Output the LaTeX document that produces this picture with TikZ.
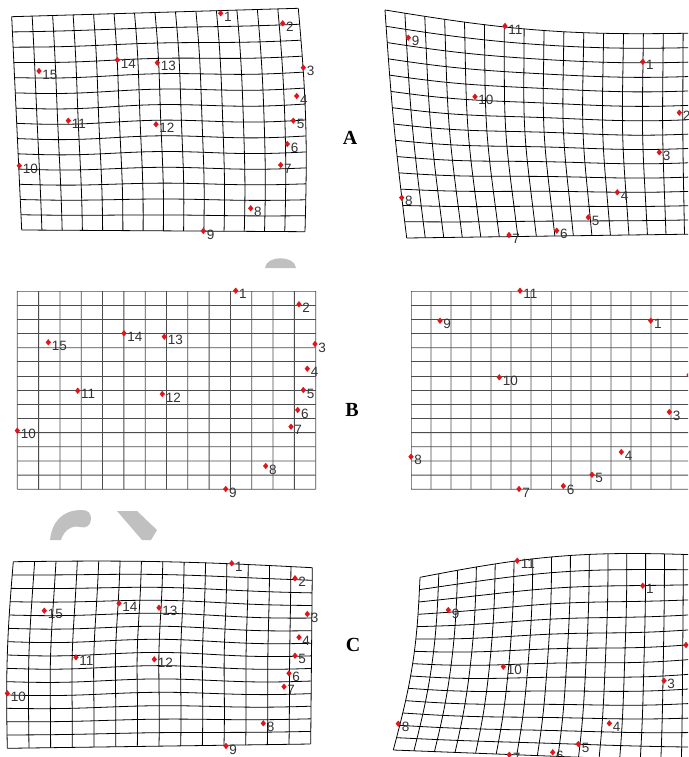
\documentclass[tikz,border=0pt]{standalone}
\usepackage{fontspec}
\setmainfont{Liberation Sans}
\newfontfamily\panelfont{Liberation Serif}
\usetikzlibrary{shapes.geometric}

\definecolor{lmred}{RGB}{225,20,25}
\definecolor{wmgray}{RGB}{192,192,192}

% corners, size and bends of one deformation grid
\pgfkeys{/wg/.cd,
  tlx/.store in=\wgtlx, tly/.store in=\wgtly,
  trx/.store in=\wgtrx, try/.store in=\wgtry,
  blx/.store in=\wgblx, bly/.store in=\wgbly,
  brx/.store in=\wgbrx, bry/.store in=\wgbry,
  cols/.store in=\wgcols, rows/.store in=\wgrows,
  ts/.store in=\wgts, bs/.store in=\wgbs,
  lb/.store in=\wglb, rb/.store in=\wgrb,
  cx/.store in=\wgcx, cy/.store in=\wgcy,
  wave/.store in=\wgwave,
  ts=0, bs=0, lb=0, rb=0, cx=0, cy=0, wave=0, cols=14, rows=14}

\newcommand{\warpgrid}[2][]{{%
  \pgfkeys{/wg/.cd,#2}%
  \foreach \j in {0,...,\wgrows}{%
    \pgfmathsetmacro\vv{\j/\wgrows}%
    \draw[#1] plot[smooth, variable=\t, domain=0:1, samples=29] ({gx(\t,\vv)},{gy(\t,\vv)});
  }%
  \foreach \i in {0,...,\wgcols}{%
    \pgfmathsetmacro\uu{\i/\wgcols}%
    \draw[#1] plot[smooth, variable=\t, domain=0:1, samples=29] ({gx(\uu,\t)},{gy(\uu,\t)});
  }%
}}

\begin{document}
\begin{tikzpicture}[x=1pt, y=-1pt,
    declare function={
      gx(\u,\v)=(1-\v)*((1-\u)*\wgtlx+\u*\wgtrx)+\v*((1-\u)*\wgblx+\u*\wgbrx)
        +\wglb*sin(180*\v)*(1-\u)+\wgrb*sin(180*\v)*\u+\wgcx*sin(180*\u)*sin(180*\v)
        +0.3*\wgwave*sin(540*\v)*sin(180*\u);
      gy(\u,\v)=(1-\v)*((1-\u)*\wgtly+\u*\wgtry)+\v*((1-\u)*\wgbly+\u*\wgbry)
        +\wgts*sin(180*\u)*(1-\v)+\wgbs*sin(180*\u)*\v+\wgcy*sin(180*\u)*sin(180*\v)
        +\wgwave*sin(540*\u)*sin(180*\v);
    },
    gridline/.style={line width=0.8pt, black},
    gridplain/.style={line width=0.8pt, black!70},
    lmk/.style={diamond, fill=lmred, inner sep=0pt, minimum width=5.5pt, minimum height=6.5pt},
    lmlab/.style={font=\fontsize{13.5}{13.5}\selectfont, text=black!80, inner sep=0pt, label distance=0.3pt, yshift=-3.5pt},
    panel/.style={font=\fontsize{20}{20}\panelfont\bfseries, inner sep=0pt}]
    \path[use as bounding box, fill=white] (0,0) rectangle (688,757);
    \clip (0,0) rectangle (688,757);
    % faint marks of the background
    \fill[wmgray] (265,268) .. controls (266,255) and (295,255) .. (296,268) -- cycle;
    \fill[wmgray] (50,540) .. controls (52,522) and (62,510) .. (82,510) .. controls (88,510) and (91,513) .. (91,519)
        .. controls (91,525) and (86,529) .. (80,527) .. controls (72,525) and (64,530) .. (61,540) -- cycle;
    \fill[wmgray] (117,511) -- (137,511) -- (157,530) -- (151,540) -- (142,540) -- cycle;
    % row A
    \warpgrid[gridline]{tlx=11.7, tly=16.7, trx=298.3, try=8.3, blx=21.7, bly=230, brx=305, bry=231.7, rb=4, wave=1.5}
    \warpgrid[gridline]{tlx=385, tly=10, trx=703, try=33, blx=406.7, bly=238, brx=703, bry=234, cols=16, ts=9, cx=-4, lb=-2, wave=1}
    % row B
    \warpgrid[gridplain]{tlx=17.3, tly=291, trx=315.7, try=291, blx=17.3, bly=489.3, brx=315.7, bry=489.3}
    \warpgrid[gridplain]{tlx=411, tly=291, trx=691, try=291, blx=411, bly=489.3, brx=691, bry=489.3}
    % row C
    \warpgrid[gridline]{tlx=13.3, tly=561.7, trx=312.3, try=567.7, blx=7.3, bly=748.3, brx=310.7, bry=744, ts=-3, lb=-3, wave=1.5}
    \warpgrid[gridline]{tlx=420, tly=577.3, trx=702, try=555, blx=393.3, bly=750, brx=702, bry=762, cols=15, ts=-10, cy=8, lb=6, wave=1}
    % landmarks
    \foreach \n/\x/\y in {1/220.7/13.3, 2/282.7/23.3, 3/303.3/67.7, 4/296.7/96, 5/293.3/120.7, 6/287.3/144, 7/280.7/165, 8/250.7/208.3,
        9/203.3/231, 10/19.3/165.7, 11/68.3/120.7, 12/156/124.3, 13/157.3/62.7, 14/117.3/60, 15/39/71}
      \node[lmk, label={[lmlab]east:\n}] (al\n) at (\x,\y) {};
    \foreach \n/\x/\y in {1/642.7/61.7, 2/679.3/112.7, 3/659.3/152.3, 4/617.3/192.3, 5/588.3/217.3, 6/556.7/230.7,
        7/509/235, 8/401.7/197.7, 9/408.3/37.7, 10/475/96.7, 11/505/26}
      \node[lmk, label={[lmlab]east:\n}] (ar\n) at (\x,\y) {};
    \foreach \n/\x/\y in {1/235.7/290.7, 2/299/304.3, 3/315/344, 4/307.3/368.7, 5/303.3/390, 6/297.7/410, 7/291/426.7, 8/265.7/466,
        9/225.7/489, 10/17.3/430.7, 11/77.7/390.7, 12/162.3/394, 13/164.3/336.7, 14/124/333.3, 15/48.3/342.3}
      \node[lmk, label={[lmlab]east:\n}] (bl\n) at (\x,\y) {};
    \foreach \n/\x/\y in {1/650.7/320.7, 2/689/375, 3/669.3/412, 4/621.3/452, 5/592/474.7, 6/563.3/486,
        7/519/489, 8/411/456.7, 9/440/320.7, 10/499.3/377.3, 11/520/290.7}
      \node[lmk, label={[lmlab]east:\n}] (br\n) at (\x,\y) {};
    \foreach \n/\x/\y in {1/231.7/563.3, 2/295/578.3, 3/307.3/614, 4/299/637.3, 5/295/655.7, 6/289/673.3, 7/284/686.7, 8/263.3/723.3,
        9/226/746, 10/7.3/693.3, 11/76/657.3, 12/154.3/659.3, 13/159/607.7, 14/119/603.3, 15/44.3/610.7}
      \node[lmk, label={[lmlab]east:\n}] (cl\n) at (\x,\y) {};
    \foreach \n/\x/\y in {1/642.7/585.7, 2/686/645, 3/664/680.7, 4/609.3/723.3, 5/578.3/744, 6/552.7/752.3,
        7/509.3/754.7, 8/398.3/723.7, 9/448.3/610, 10/503.3/666.7, 11/517.3/560.7}
      \node[lmk, label={[lmlab]east:\n}] (cr\n) at (\x,\y) {};
    % panel letters
    \node[panel] (pA) at (350,138) {A};
    \node[panel] (pB) at (352,410) {B};
    \node[panel] (pC) at (353,645) {C};
\end{tikzpicture}
\end{document}
